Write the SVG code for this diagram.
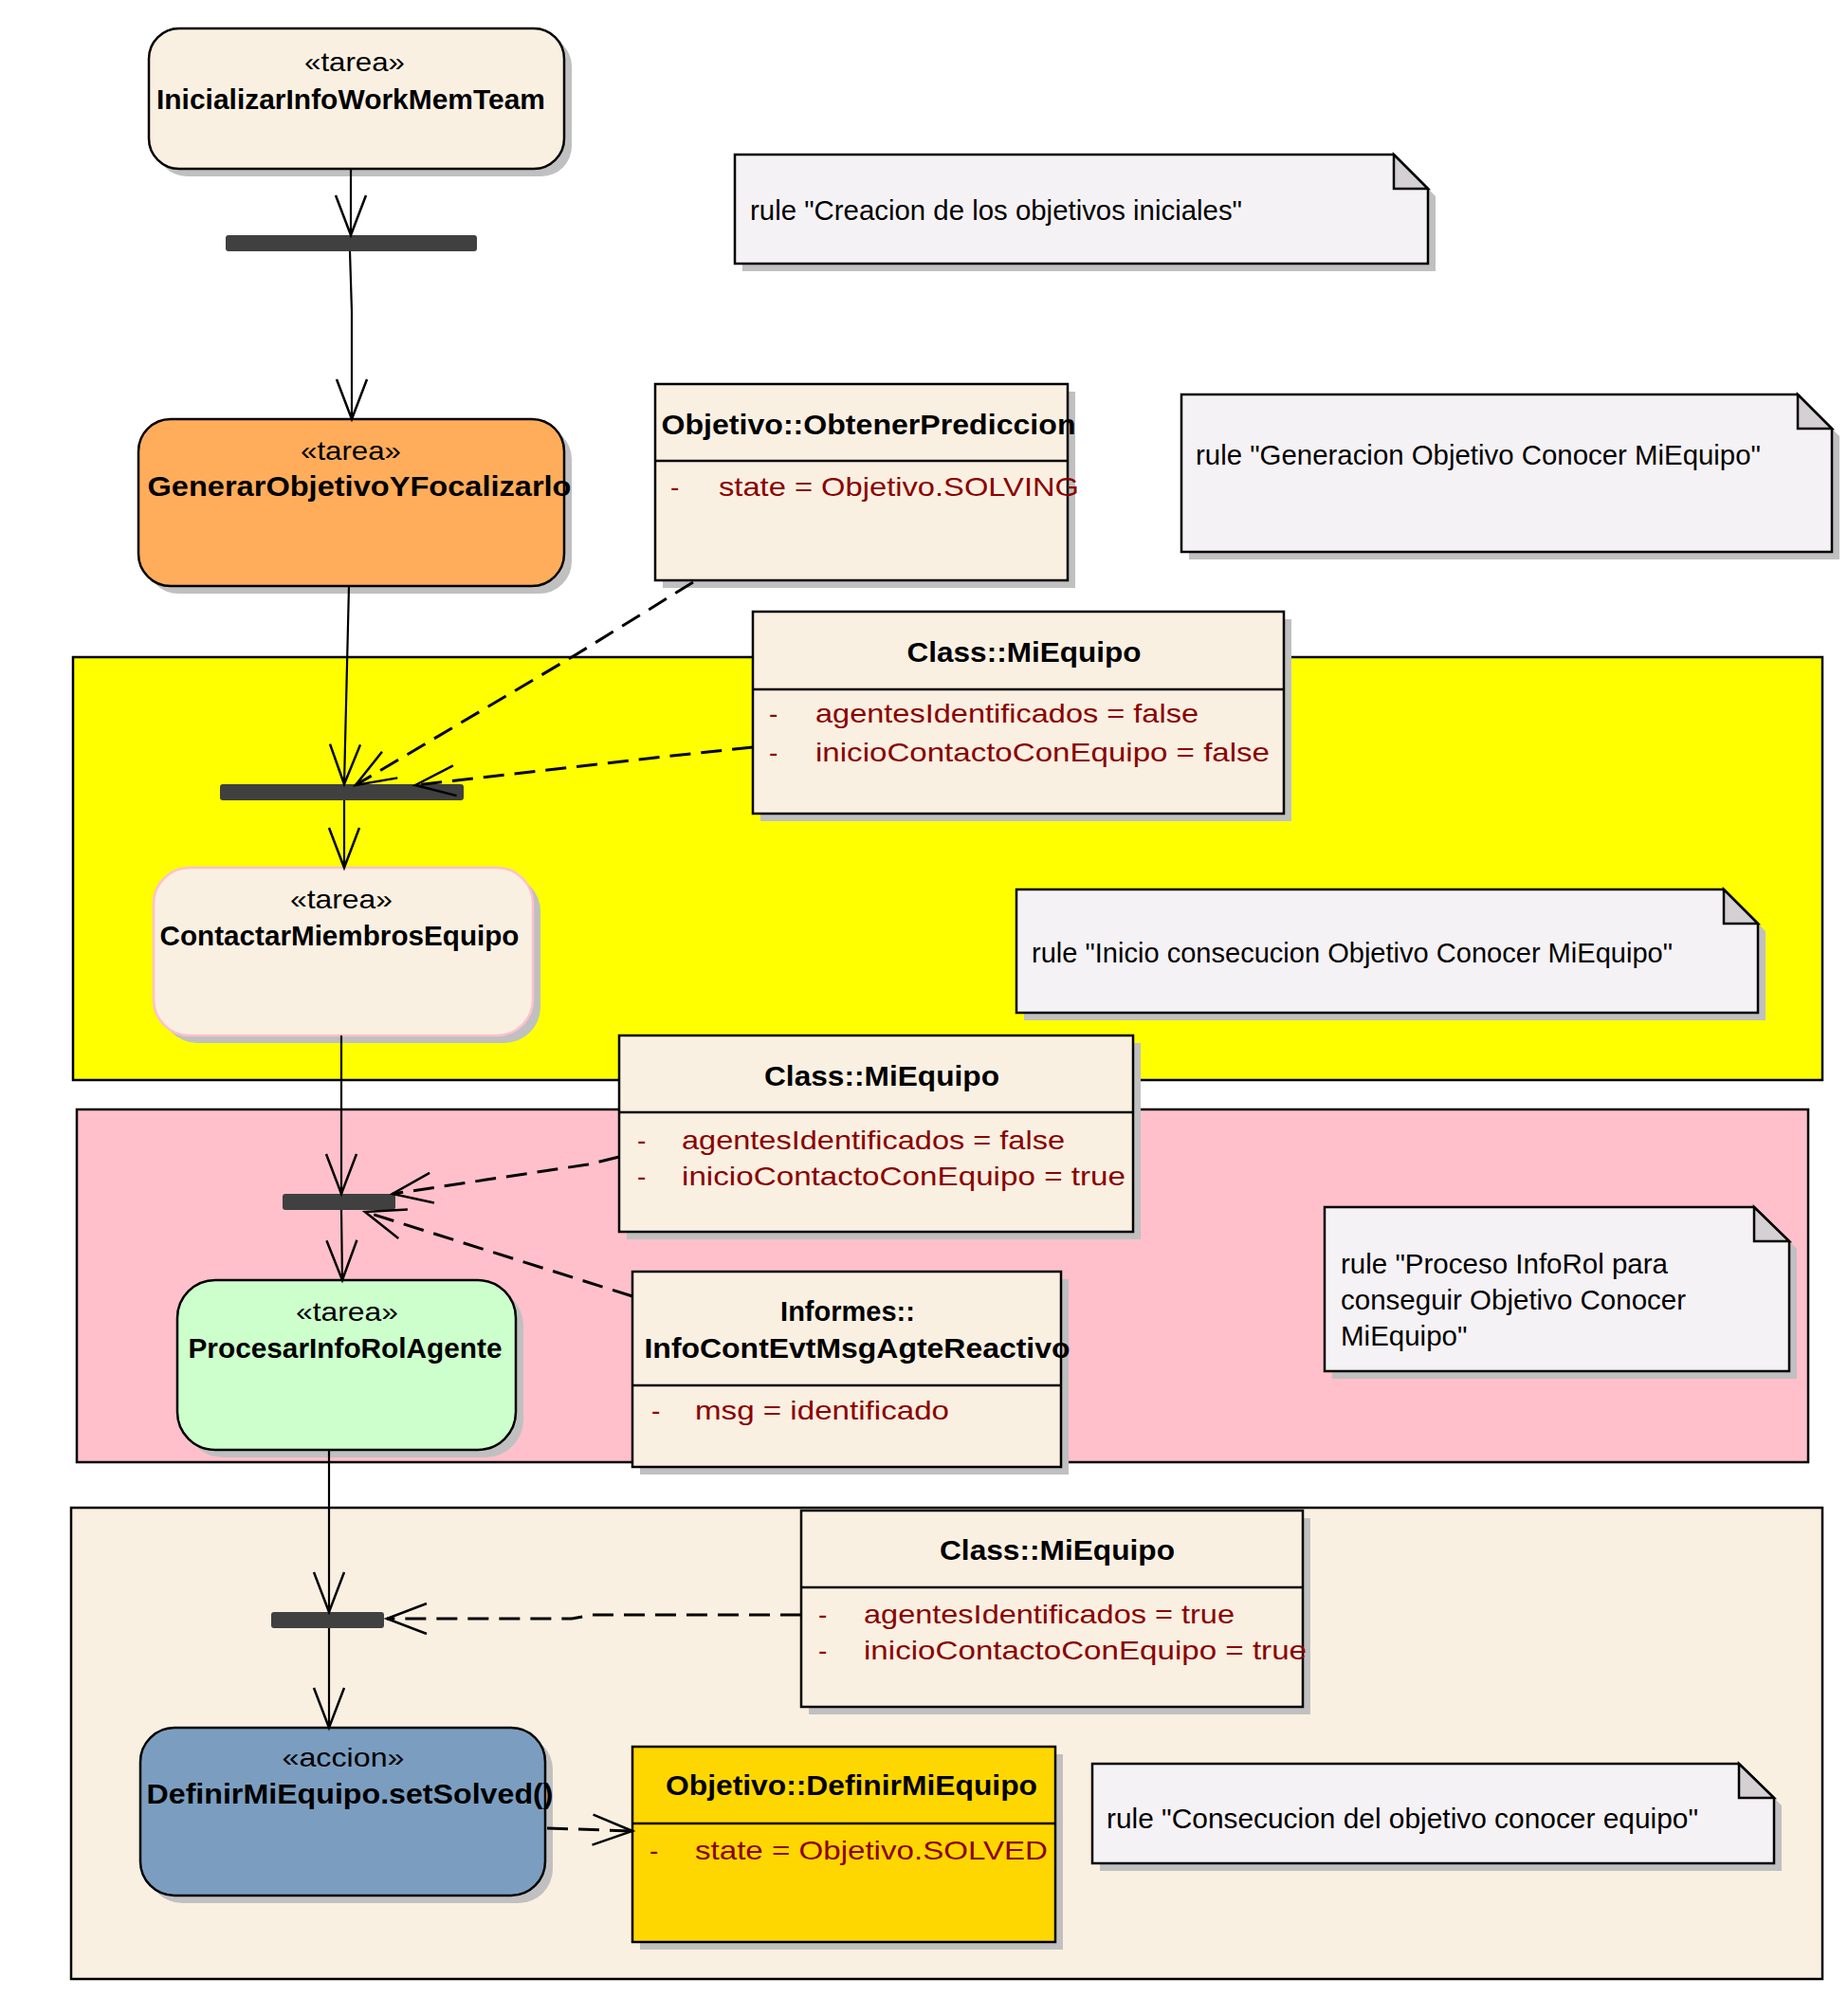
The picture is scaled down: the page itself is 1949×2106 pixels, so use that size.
<svg xmlns="http://www.w3.org/2000/svg" width="1949" height="2106" viewBox="0 0 1949 2106">
<style>
text{font-family:"Liberation Sans",Arial,sans-serif;}
.st{font-size:28px;text-anchor:middle;fill:#000}
.nm{font-size:30px;font-weight:bold;text-anchor:middle;fill:#000}
.ct{font-size:29px;font-weight:bold;text-anchor:middle;fill:#000}
.at{font-size:28px;fill:#8B0000}
.nt{font-size:29.5px;fill:#000}
.sh{fill:#C0C0C0}
.box{stroke:#000;stroke-width:2.5}
.beige{fill:#FAF0E2}
.note{fill:#F5F2F5;stroke:#000;stroke-width:2.5;stroke-linejoin:miter}
.fold{fill:#D4D0D4;stroke:#000;stroke-width:2.5;stroke-linejoin:miter}
.bar{fill:#404040}
.part{stroke:#000;stroke-width:2.5}
.div{stroke:#000;stroke-width:2.5}
.line{fill:none;stroke:#000;stroke-width:2.2;marker-end:url(#open)}
.dash{stroke-dasharray:22 11;stroke-width:3}
</style>
<defs>
<marker id="open" markerUnits="userSpaceOnUse" viewBox="-46 -20 50 40" markerWidth="50" markerHeight="40" refX="0" refY="0" orient="auto" overflow="visible">
<path d="M-42,-16 L0,0 L-42,16" fill="none" stroke="#000" stroke-width="2.5" stroke-dasharray="none"/>
</marker>
</defs>

<!-- partitions -->
<g id="partition-yellow"><rect class="part" x="77" y="693" width="1845" height="446" fill="#FFFF00"/></g>
<g id="partition-pink"><rect class="part" x="81" y="1170" width="1826" height="372" fill="#FFC0CB"/></g>
<g id="partition-beige"><rect class="part" x="75" y="1590" width="1847" height="497" fill="#FAF0E2"/></g>

<!-- notes -->
<g id="note-creacion">
<polygon class="sh" points="783,171 1478,171 1514,207 1514,286 783,286"/>
<polygon class="note" points="775,163 1470,163 1506,199 1506,278 775,278"/>
<polygon class="fold" points="1470,163 1470,199 1506,199"/>
<text class="nt" x="791" y="232" textLength="519" lengthAdjust="spacingAndGlyphs">rule "Creacion de los objetivos iniciales"</text>
</g>
<g id="note-generacion">
<polygon class="sh" points="1254,424 1904,424 1940,460 1940,590 1254,590"/>
<polygon class="note" points="1246,416 1896,416 1932,452 1932,582 1246,582"/>
<polygon class="fold" points="1896,416 1896,452 1932,452"/>
<text class="nt" x="1261" y="490" textLength="596" lengthAdjust="spacingAndGlyphs">rule "Generacion Objetivo Conocer MiEquipo"</text>
</g>
<g id="note-inicio">
<polygon class="sh" points="1080,946 1826,946 1862,982 1862,1076 1080,1076"/>
<polygon class="note" points="1072,938 1818,938 1854,974 1854,1068 1072,1068"/>
<polygon class="fold" points="1818,938 1818,974 1854,974"/>
<text class="nt" x="1088" y="1015" textLength="676" lengthAdjust="spacingAndGlyphs">rule "Inicio consecucion Objetivo Conocer MiEquipo"</text>
</g>
<g id="note-proceso">
<polygon class="sh" points="1405,1281 1858,1281 1895,1317 1895,1454 1405,1454"/>
<polygon class="note" points="1397,1273 1850,1273 1887,1309 1887,1446 1397,1446"/>
<polygon class="fold" points="1850,1273 1850,1309 1887,1309"/>
<text class="nt" x="1414" y="1343">rule "Proceso InfoRol para</text>
<text class="nt" x="1414" y="1381">conseguir Objetivo Conocer</text>
<text class="nt" x="1414" y="1419">MiEquipo"</text>
</g>
<g id="note-consecucion">
<polygon class="sh" points="1160,1868 1842,1868 1879,1904 1879,1973 1160,1973"/>
<polygon class="note" points="1152,1860 1834,1860 1871,1896 1871,1965 1152,1965"/>
<polygon class="fold" points="1834,1860 1834,1896 1871,1896"/>
<text class="nt" x="1167" y="1928" textLength="624" lengthAdjust="spacingAndGlyphs">rule "Consecucion del objetivo conocer equipo"</text>
</g>

<!-- activity nodes -->
<g id="node-inicializar">
<rect class="sh" x="165" y="38" width="438" height="148" rx="32"/>
<rect class="box beige" x="157" y="30" width="438" height="148" rx="32"/>
<text class="st" x="374" y="75" textLength="106" lengthAdjust="spacingAndGlyphs">«tarea»</text>
<text class="nm" x="370" y="115" textLength="410" lengthAdjust="spacingAndGlyphs">InicializarInfoWorkMemTeam</text>
</g>
<g id="node-generar">
<rect class="sh" x="154" y="450" width="449" height="176" rx="34"/>
<rect class="box" x="146" y="442" width="449" height="176" rx="34" fill="#FFAD5B"/>
<text class="st" x="370" y="485" textLength="106" lengthAdjust="spacingAndGlyphs">«tarea»</text>
<text class="nm" x="379" y="523" textLength="447" lengthAdjust="spacingAndGlyphs">GenerarObjetivoYFocalizarlo</text>
</g>
<g id="node-contactar">
<rect class="sh" x="170" y="923" width="400" height="177" rx="38"/>
<rect x="162" y="915" width="400" height="177" rx="38" fill="#FAF0E2" stroke="#FFC0CB" stroke-width="2.5"/>
<text class="st" x="360" y="958" textLength="108" lengthAdjust="spacingAndGlyphs">«tarea»</text>
<text class="nm" x="358" y="997" textLength="379" lengthAdjust="spacingAndGlyphs">ContactarMiembrosEquipo</text>
</g>
<g id="node-procesar">
<rect class="sh" x="195" y="1358" width="357" height="179" rx="40"/>
<rect class="box" x="187" y="1350" width="357" height="179" rx="40" fill="#CCFFCC"/>
<text class="st" x="366" y="1393" textLength="108" lengthAdjust="spacingAndGlyphs">«tarea»</text>
<text class="nm" x="364" y="1432" textLength="331" lengthAdjust="spacingAndGlyphs">ProcesarInfoRolAgente</text>
</g>
<g id="node-definir">
<rect class="sh" x="156" y="1830" width="427" height="177" rx="36"/>
<rect class="box" x="148" y="1822" width="427" height="177" rx="36" fill="#7B9EC0"/>
<text class="st" x="362" y="1863" textLength="129" lengthAdjust="spacingAndGlyphs">«accion»</text>
<text class="nm" x="369" y="1902" textLength="429" lengthAdjust="spacingAndGlyphs">DefinirMiEquipo.setSolved()</text>
</g>

<!-- fork/join bars -->
<g id="bar-1"><rect class="bar" x="238" y="248" width="265" height="17" rx="3"/></g>
<g id="bar-2"><rect class="bar" x="232" y="827" width="257" height="17" rx="3"/></g>
<g id="bar-3"><rect class="bar" x="298" y="1259" width="119" height="17" rx="3"/></g>
<g id="bar-4"><rect class="bar" x="286" y="1700" width="119" height="17" rx="3"/></g>

<!-- classes -->
<g id="class-obtenerprediccion">
<rect class="sh" x="699" y="413" width="435" height="207"/>
<rect class="box beige" x="691" y="405" width="435" height="207"/>
<line class="div" x1="691" y1="486" x2="1126" y2="486"/>
<text class="ct" x="916" y="458" textLength="437" lengthAdjust="spacingAndGlyphs">Objetivo::ObtenerPrediccion</text>
<text class="at" x="707" y="523">-</text>
<text class="at" x="758" y="523" textLength="380" lengthAdjust="spacingAndGlyphs">state = Objetivo.SOLVING</text>
</g>
<g id="class-miequipo-1">
<rect class="sh" x="802" y="653" width="560" height="213"/>
<rect class="box beige" x="794" y="645" width="560" height="213"/>
<line class="div" x1="794" y1="727" x2="1354" y2="727"/>
<text class="ct" x="1080" y="698" textLength="247" lengthAdjust="spacingAndGlyphs">Class::MiEquipo</text>
<text class="at" x="811" y="762">-</text>
<text class="at" x="860" y="762" textLength="404" lengthAdjust="spacingAndGlyphs">agentesIdentificados = false</text>
<text class="at" x="811" y="803">-</text>
<text class="at" x="860" y="803" textLength="479" lengthAdjust="spacingAndGlyphs">inicioContactoConEquipo = false</text>
</g>
<g id="class-miequipo-2">
<rect class="sh" x="661" y="1100" width="542" height="207"/>
<rect class="box beige" x="653" y="1092" width="542" height="207"/>
<line class="div" x1="653" y1="1173" x2="1195" y2="1173"/>
<text class="ct" x="930" y="1145" textLength="248" lengthAdjust="spacingAndGlyphs">Class::MiEquipo</text>
<text class="at" x="672" y="1212">-</text>
<text class="at" x="719" y="1212" textLength="404" lengthAdjust="spacingAndGlyphs">agentesIdentificados = false</text>
<text class="at" x="672" y="1250">-</text>
<text class="at" x="719" y="1250" textLength="468" lengthAdjust="spacingAndGlyphs">inicioContactoConEquipo = true</text>
</g>
<g id="class-informes">
<rect class="sh" x="675" y="1349" width="452" height="206"/>
<rect class="box beige" x="667" y="1341" width="452" height="206"/>
<line class="div" x1="667" y1="1461" x2="1119" y2="1461"/>
<text class="ct" x="894" y="1393">Informes::</text>
<text class="ct" x="904" y="1432" textLength="449" lengthAdjust="spacingAndGlyphs">InfoContEvtMsgAgteReactivo</text>
<text class="at" x="687" y="1497">-</text>
<text class="at" x="733" y="1497" textLength="268" lengthAdjust="spacingAndGlyphs">msg = identificado</text>
</g>
<g id="class-miequipo-3">
<rect class="sh" x="853" y="1601" width="529" height="207"/>
<rect class="box beige" x="845" y="1593" width="529" height="207"/>
<line class="div" x1="845" y1="1674" x2="1374" y2="1674"/>
<text class="ct" x="1115" y="1645" textLength="248" lengthAdjust="spacingAndGlyphs">Class::MiEquipo</text>
<text class="at" x="863" y="1712">-</text>
<text class="at" x="911" y="1712" textLength="391" lengthAdjust="spacingAndGlyphs">agentesIdentificados = true</text>
<text class="at" x="863" y="1750">-</text>
<text class="at" x="911" y="1750" textLength="467" lengthAdjust="spacingAndGlyphs">inicioContactoConEquipo = true</text>
</g>
<g id="class-definirmiequipo">
<rect class="sh" x="675" y="1850" width="446" height="206"/>
<rect class="box" x="667" y="1842" width="446" height="206" fill="#FFD700"/>
<line class="div" x1="667" y1="1923" x2="1113" y2="1923"/>
<text class="ct" x="898" y="1893" textLength="392" lengthAdjust="spacingAndGlyphs">Objetivo::DefinirMiEquipo</text>
<text class="at" x="685" y="1961">-</text>
<text class="at" x="733" y="1961" textLength="372" lengthAdjust="spacingAndGlyphs">state = Objetivo.SOLVED</text>
</g>

<!-- connectors -->
<g id="connectors">
<polyline class="line" points="370,178 370,248"/>
<polyline class="line" points="369,265 371,329 371,442"/>
<polyline class="line" points="368,618 363,827"/>
<polyline class="line" points="363,844 363,915"/>
<polyline class="line dash" points="731,614 608,690 375,828"/>
<polyline class="line dash" points="794,788 700,798 438,828"/>
<polyline class="line" points="360,1092 360,1259"/>
<polyline class="line" points="360,1276 361,1350"/>
<polyline class="line dash" points="653,1220 620,1228 414,1259"/>
<polyline class="line dash" points="667,1367 385,1278"/>
<polyline class="line" points="347,1529 347,1700"/>
<polyline class="line" points="347,1717 347,1822"/>
<polyline class="line dash" points="845,1703 625,1703 603,1707 408,1707"/>
<polyline class="line dash" points="577,1928 667,1931"/>
</g>
</svg>
